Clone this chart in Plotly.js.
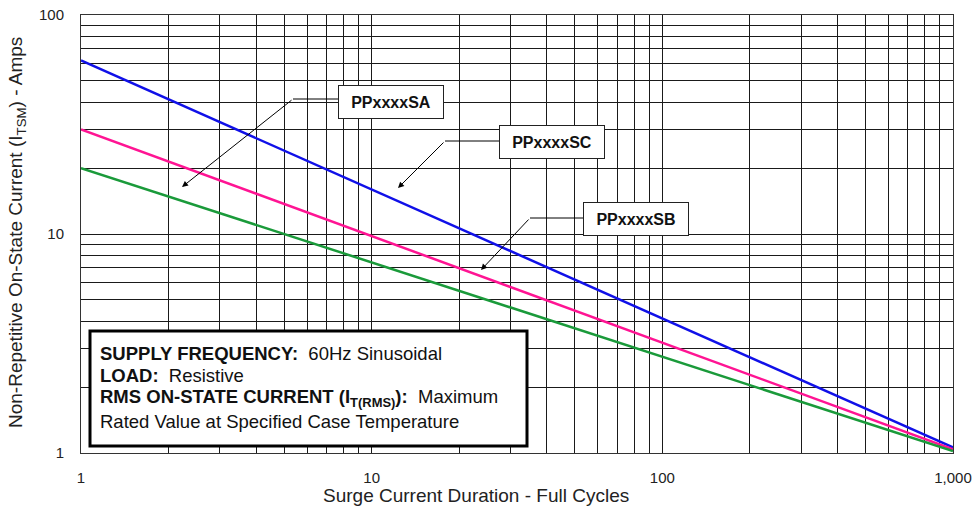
<!DOCTYPE html>
<html>
<head>
<meta charset="utf-8">
<script src="https://cdn.plot.ly/plotly-3.0.1.min.js"></script>
<style>html,body{margin:0;padding:0;background:#fff;}#chart{width:979px;height:511px;}</style>
</head>
<body>
<div id="chart"></div>
<script>
// Data (endpoints of each straight line on log-log axes)
const cycles = [1, 1000];
const seriesNames = ['PPxxxxSC', 'PPxxxxSB', 'PPxxxxSA'];
const currentSC = [62, 1.06];
const currentSB = [30, 1.04];
const currentSA = [20, 1.02];
const seriesColors = ['#1010e8', '#ff1493', '#1a9a3a'];

const xTickVals = [1,2,3,4,5,6,7,8,9,10,20,30,40,50,60,70,80,90,100,200,300,400,500,600,700,800,900,1000];
const xTickText = xTickVals.map(v => ({1:'1',10:'10',100:'100',1000:'1,000'}[v] || ''));
const yTickVals = [1,2,3,4,5,6,7,8,9,10,20,30,40,50,60,70,80,90,100];
const yTickText = yTickVals.map(v => ({1:'1',10:'10',100:'100'}[v] || ''));

const W = 979, H = 511, L = 81, R = 26, T = 15, B = 58;
const PW = W - L - R, PH = H - T - B;
const px = x => (x - L) / PW;
const py = y => (H - B - y) / PH;

const font = 'Liberation Sans, Arial, sans-serif';

const traces = [currentSC, currentSB, currentSA].map((ys, i) => ({
  x: cycles, y: ys, type: 'scatter', mode: 'lines', name: seriesNames[i],
  line: {color: seriesColors[i], width: 2.5}, hoverinfo: 'skip'
}));

// Callout labels: box centre, leader bend point, arrow tip (pixels)
const callouts = [
  {text: 'PPxxxxSA', cx: 391, cy: 102, ly: 99, bx: 293, tipx: 182, tipy: 187, left: 338},
  {text: 'PPxxxxSC', cx: 552, cy: 142, ly: 141, bx: 445, tipx: 398, tipy: 188, left: 500},
  {text: 'PPxxxxSB', cx: 636, cy: 219, ly: 218, bx: 530, tipx: 481, tipy: 270, left: 583}
];

const annotations = [];
const shapes = [];
callouts.forEach(c => {
  shapes.push({type: 'line', xref: 'paper', yref: 'paper', layer: 'above',
    x0: px(c.bx), y0: py(c.ly), x1: px(c.left), y1: py(c.ly), line: {color: '#000', width: 1}});
  annotations.push({xref: 'paper', yref: 'paper', x: px(c.tipx), y: py(c.tipy), text: '',
    showarrow: true, axref: 'pixel', ayref: 'pixel', ax: c.bx - c.tipx, ay: c.ly - c.tipy,
    arrowhead: 2, arrowsize: 1.2, arrowwidth: 1, arrowcolor: '#000', standoff: 0});
  annotations.push({xref: 'paper', yref: 'paper', x: px(c.cx), y: py(c.cy), xanchor: 'center', yanchor: 'middle',
    text: '<b>' + c.text + '</b>', showarrow: false, font: {family: font, size: 16, color: '#111'},
    bgcolor: '#fff', bordercolor: '#222', borderwidth: 1, width: 100, height: 28, borderpad: 2});
});

// Conditions box
shapes.push({type: 'rect', xref: 'paper', yref: 'paper', layer: 'above',
  x0: px(90), x1: px(527), y0: py(446), y1: py(331), fillcolor: '#fff', line: {color: '#000', width: 3}});
const nb = '\u00a0';
const boxLines = [
  {t: '<b>SUPPLY FREQUENCY:</b>' + nb + nb + '60Hz Sinusoidal', y: 353},
  {t: '<b>LOAD:</b>' + nb + nb + 'Resistive', y: 375},
  {t: '<b>RMS ON-STATE CURRENT (I<sub>T(RMS)</sub>):</b>' + nb + nb + 'Maximum', y: 398},
  {t: 'Rated Value at Specified Case Temperature', y: 421}
];
boxLines.forEach(b => annotations.push({xref: 'paper', yref: 'paper', x: px(98), y: py(b.y),
  xanchor: 'left', yanchor: 'middle', text: b.t, showarrow: false, font: {family: font, size: 18.5, color: '#111'}}));

// Axis titles
annotations.push({xref: 'paper', yref: 'paper', x: px(476), y: py(495), xanchor: 'center', yanchor: 'middle',
  text: 'Surge Current Duration - Full Cycles', showarrow: false, font: {family: font, size: 19, color: '#222'}});
annotations.push({xref: 'paper', yref: 'paper', x: px(17), y: py(233), xanchor: 'center', yanchor: 'middle', textangle: -90,
  text: 'Non-Repetitive On-State Current (I<sub>TSM</sub>) - Amps', showarrow: false, font: {family: font, size: 19, color: '#222'}});

const layout = {
  width: W, height: H,
  margin: {l: L, r: R, t: T, b: B},
  paper_bgcolor: '#fff', plot_bgcolor: '#fff',
  showlegend: false,
  font: {family: font, size: 15, color: '#222'},
  xaxis: {
    type: 'log', range: [0, 3], tickvals: xTickVals, ticktext: xTickText,
    showgrid: true, gridcolor: '#1a1a1a', gridwidth: 1,
    showline: true, linecolor: '#333', linewidth: 1, mirror: true, zeroline: false,
    ticks: '', ticklabelstandoff: 11, tickfont: {family: font, size: 15, color: '#222'}
  },
  yaxis: {
    type: 'log', range: [0, 2], tickvals: yTickVals, ticktext: yTickText,
    showgrid: true, gridcolor: '#1a1a1a', gridwidth: 1,
    showline: true, linecolor: '#333', linewidth: 1, mirror: true, zeroline: false,
    ticks: '', ticklabelstandoff: 13, tickfont: {family: font, size: 15, color: '#222'}
  },
  shapes: shapes,
  annotations: annotations
};

Plotly.newPlot('chart', traces, layout, {staticPlot: true, displayModeBar: false});
</script>
</body>
</html>
